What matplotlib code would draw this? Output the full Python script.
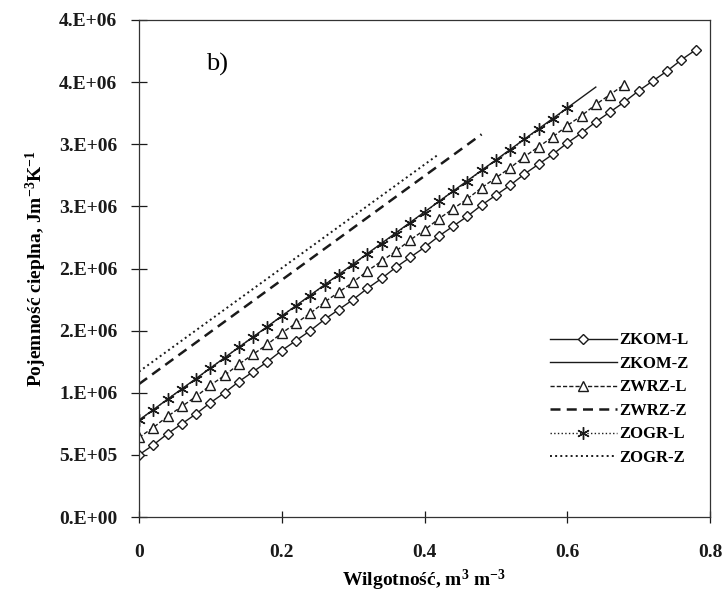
import numpy as np
import matplotlib
matplotlib.use("Agg")
import matplotlib.pyplot as plt

plt.rcParams['font.family'] = ['Liberation Serif', 'DejaVu Serif']

# wilgotność (m3/m3), krok
theta = [0.00, 0.02, 0.04, 0.06, 0.08, 0.10, 0.12, 0.14, 0.16, 0.18,
         0.20, 0.22, 0.24, 0.26, 0.28, 0.30, 0.32, 0.34, 0.36, 0.38,
         0.40, 0.42, 0.44, 0.46, 0.48, 0.50, 0.52, 0.54, 0.56, 0.58,
         0.60, 0.62, 0.64, 0.66, 0.68, 0.70, 0.72, 0.74, 0.76, 0.78]

# pojemność cieplna w 1e6 J/(m3 K)
zkom_l = [0.50, 0.58, 0.67, 0.75, 0.83, 0.92, 1.00, 1.09, 1.17, 1.25,
          1.34, 1.42, 1.50, 1.59, 1.67, 1.75, 1.84, 1.92, 2.01, 2.09,
          2.17, 2.26, 2.34, 2.42, 2.51, 2.59, 2.67, 2.76, 2.84, 2.92,
          3.01, 3.09, 3.18, 3.26, 3.34, 3.43, 3.51, 3.59, 3.68, 3.76]
zwrz_l = [0.64, 0.72, 0.81, 0.89, 0.97, 1.06, 1.14, 1.23, 1.31, 1.39,
          1.48, 1.56, 1.64, 1.73, 1.81, 1.89, 1.98, 2.06, 2.14, 2.23,
          2.31, 2.40, 2.48, 2.56, 2.65, 2.73, 2.81, 2.90, 2.98, 3.06,
          3.15, 3.23, 3.32, 3.40, 3.48]
zogr_l = [0.78, 0.86, 0.95, 1.03, 1.11, 1.20, 1.28, 1.37, 1.45, 1.53,
          1.62, 1.70, 1.78, 1.87, 1.95, 2.03, 2.12, 2.20, 2.28, 2.37,
          2.45, 2.54, 2.62, 2.70, 2.79, 2.87, 2.95, 3.04, 3.12, 3.20,
          3.29]

# serie bez znaczników (tylko linie)
zkom_z_x = [0.00, 0.64]
zkom_z = [0.78, 3.46]
zwrz_z_x = [0.00, 0.48]
zwrz_z = [1.07, 3.08]
zogr_z_x = [0.00, 0.42]
zogr_z = [1.17, 2.92]

y_ticks = [0, 0.5e6, 1.0e6, 1.5e6, 2.0e6, 2.5e6, 3.0e6, 3.5e6, 4.0e6]
y_labels = ['0.E+00', '5.E+05', '1.E+06', '2.E+06', '2.E+06',
            '3.E+06', '3.E+06', '4.E+06', '4.E+06']
x_ticks = [0, 0.2, 0.4, 0.6, 0.8]
x_labels = ['0', '0.2', '0.4', '0.6', '0.8']

k = '#1a1a1a'
sc = 1e6

fig = plt.figure(figsize=(7.26, 5.98), dpi=100)
ax = fig.add_axes([139/726, 81/598, 571/726, 497/598])

ax.plot(theta[:len(zkom_l)], np.array(zkom_l)*sc, '-', color=k, lw=1.0,
        marker='D', ms=5.2, mfc='white', mec=k, mew=1.0, label='ZKOM-L')
ax.plot(zkom_z_x, np.array(zkom_z)*sc, '-', color=k, lw=1.0, label='ZKOM-Z')
ax.plot(theta[:len(zwrz_l)], np.array(zwrz_l)*sc, '--', color=k, lw=1.0,
        dashes=(3, 1.5), marker='^', ms=7, mfc='white', mec=k, mew=1.0,
        label='ZWRZ-L')
ax.plot(zwrz_z_x, np.array(zwrz_z)*sc, '--', color=k, lw=1.8,
        dashes=(4, 2.5), label='ZWRZ-Z')
ax.plot(theta[:len(zogr_l)], np.array(zogr_l)*sc, ':', color=k, lw=1.0,
        marker=(6, 2, 0), ms=9, mec=k, mew=1.0, label='ZOGR-L')
ax.plot(zogr_z_x, np.array(zogr_z)*sc, ':', color=k, lw=1.4, label='ZOGR-Z')

ax.set_xlim(0, 0.8)
ax.set_ylim(0, 4.0e6)
ax.set_xticks(x_ticks)
ax.set_xticklabels(x_labels, fontsize=14, fontweight='bold')
ax.set_yticks(y_ticks)
ax.set_yticklabels(y_labels, fontsize=14, fontweight='bold')
ax.tick_params(axis='y', direction='inout', length=11, width=0.9,
               pad=10, colors=k)
ax.tick_params(axis='x', direction='inout', length=9, width=0.9,
               pad=15, colors=k)
for s in ax.spines.values():
    s.set_linewidth(0.9)
    s.set_color('#333333')

ax.set_xlabel(r'Wilgotność, m$\mathregular{^3}$ m$\mathregular{^{-3}}$',
              fontsize=14, fontweight='bold', labelpad=5)
ax.set_ylabel(r'Pojemność cieplna, Jm$\mathregular{^{-3}}$K$\mathregular{^{-1}}$',
              fontsize=14, fontweight='bold', labelpad=7)

ax.text(0.11, 3.64e6, 'b)', fontsize=19, ha='center', va='center')

ax.legend(loc='center left', bbox_to_anchor=(0.72, 0.237), frameon=False,
          prop={'weight': 'bold', 'size': 12}, handlelength=4.0,
          handletextpad=0.15, labelspacing=0.45, borderpad=0,
          borderaxespad=0)

fig.savefig('out.png', dpi=100)
